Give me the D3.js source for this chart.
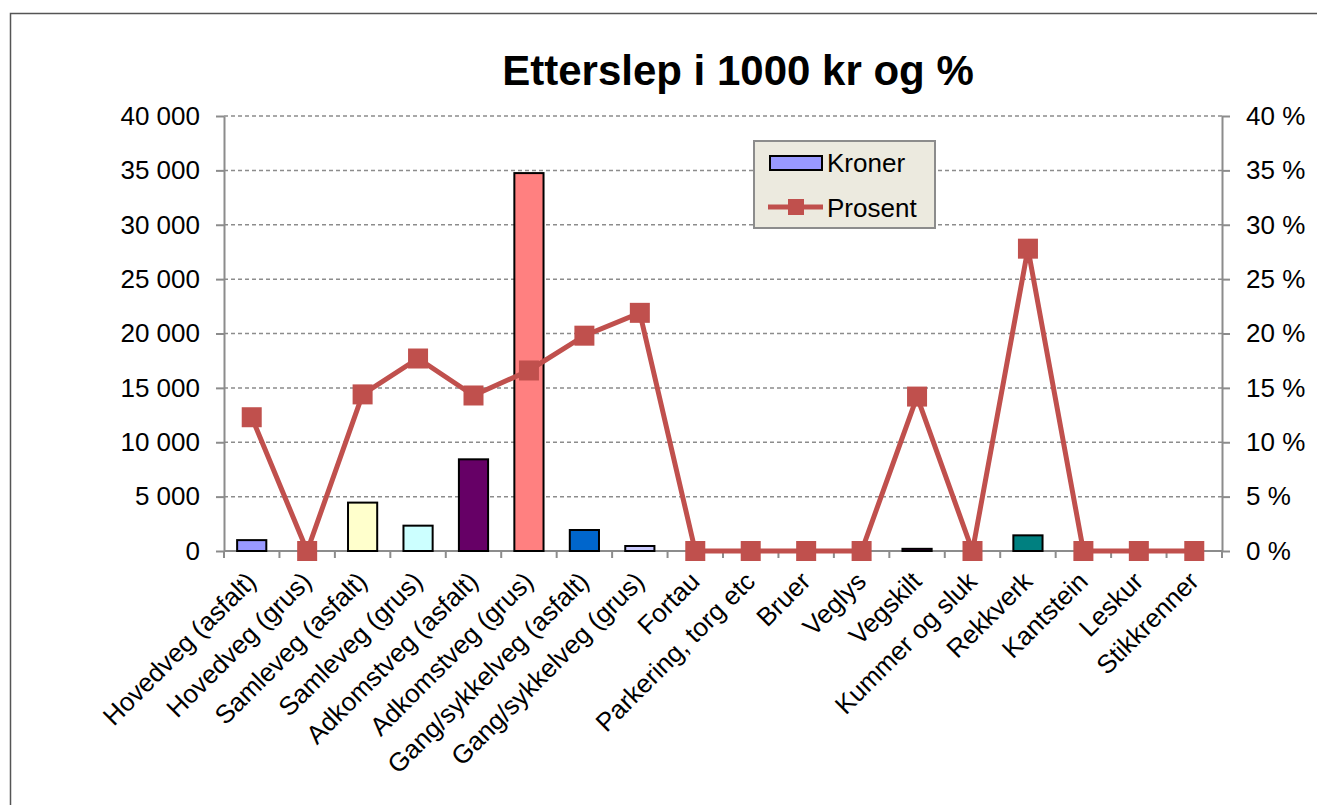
<html>
    <head>
        <script src="https://d3js.org/d3.v7.min.js"></script>
        <style>
            body { margin: 0; background: #fff; overflow: hidden; }
            svg { display: block; font-family: "Liberation Sans", Arial, sans-serif; }
            .grid line { stroke: #8c8c8c; stroke-dasharray: 4,3; stroke-width: 1.5px; }
            .axis path, .axis line { stroke: #8c8c8c; stroke-width: 2px; }
            .axis text { font-size: 26px; fill: #000; }
            .line { fill: none; stroke: #c0504d; stroke-width: 5px; }
        </style>
    </head>
    <body>
        <script>
            var categories = ["Hovedveg (asfalt)", "Hovedveg (grus)", "Samleveg (asfalt)", "Samleveg (grus)",
                "Adkomstveg (asfalt)", "Adkomstveg (grus)", "Gang/sykkelveg (asfalt)", "Gang/sykkelveg (grus)",
                "Fortau", "Parkering, torg etc", "Bruer", "Veglys", "Vegskilt", "Kummer og sluk",
                "Rekkverk", "Kantstein", "Leskur", "Stikkrenner"];
            var kroner = [1000, 0, 4450, 2330, 8430, 34750, 1930, 460, 0, 0, 0, 0, 200, 0, 1440, 0, 0, 0];
            var prosent = [12.3, 0, 14.4, 17.7, 14.3, 16.6, 19.8, 21.9, 0, 0, 0, 0, 14.2, 0, 27.8, 0, 0, 0];
            var barColors = ["#9999ff", "#993366", "#ffffcc", "#ccffff", "#660066", "#ff8080", "#0066cc", "#ccccff",
                "#000080", "#ff00ff", "#ffff00", "#00ffff", "#800080", "#800000", "#008080", "#0000ff", "#00ccff", "#ccffff"];
            var leftTicks = [0, 5000, 10000, 15000, 20000, 25000, 30000, 35000, 40000];
            var rightTicks = [0, 5, 10, 15, 20, 25, 30, 35, 40];

            var plotLeft = 224, plotRight = 1222, plotTop = 116, plotBottom = 551;

            var svg = d3.select("body").append("svg")
                .attr("width", 1317)
                .attr("height", 805);

            // chart border (runs off the right and bottom edges)
            svg.append("rect")
                .attr("x", 10.5).attr("y", 13.5)
                .attr("width", 1400).attr("height", 900)
                .attr("fill", "#fff").attr("stroke", "#555").attr("stroke-width", 1.5);

            svg.append("text")
                .attr("x", 738).attr("y", 85)
                .attr("text-anchor", "middle")
                .style("font-size", "42px").style("font-weight", "bold")
                .text("Etterslep i 1000 kr og %");

            var x = d3.scaleBand().domain(categories).range([plotLeft, plotRight]).padding(0);
            var y = d3.scaleLinear().domain([0, 40000]).range([plotBottom, plotTop]);
            var y2 = d3.scaleLinear().domain([0, 40]).range([plotBottom, plotTop]);
            var fmt = function(d) { return d3.format(",")(d).replace(/,/g, " "); };

            // gridlines
            svg.append("g").attr("class", "grid")
                .selectAll("line").data(leftTicks.slice(1)).enter().append("line")
                .attr("x1", plotLeft).attr("x2", plotRight)
                .attr("y1", function(d) { return y(d); })
                .attr("y2", function(d) { return y(d); });

            // left axis
            svg.append("g").attr("class", "axis")
                .attr("transform", "translate(" + plotLeft + ",0)")
                .call(d3.axisLeft(y).tickValues(leftTicks).tickFormat(fmt).tickSize(8).tickSizeOuter(0).tickPadding(16));

            // right axis
            svg.append("g").attr("class", "axis")
                .attr("transform", "translate(" + plotRight + ",0)")
                .call(d3.axisRight(y2).tickValues(rightTicks).tickFormat(function(d) { return d + " %"; })
                    .tickSize(8).tickSizeOuter(0).tickPadding(16));

            // bottom axis, ticks between categories
            var bx = svg.append("g").attr("class", "axis");
            bx.append("line").attr("x1", plotLeft).attr("x2", plotRight).attr("y1", plotBottom).attr("y2", plotBottom);
            bx.selectAll(".tk").data(d3.range(categories.length + 1)).enter().append("line")
                .attr("x1", function(i) { return plotLeft + i * x.step(); })
                .attr("x2", function(i) { return plotLeft + i * x.step(); })
                .attr("y1", plotBottom).attr("y2", plotBottom + 7);
            bx.selectAll("text").data(categories).enter().append("text")
                .attr("text-anchor", "end")
                .attr("transform", function(d) {
                    return "translate(" + (x(d) + x.bandwidth() / 2 + 6) + "," + (plotBottom + 32) + ") rotate(-45)";
                })
                .text(function(d) { return d; });

            // bars
            var bw = x.bandwidth() / 1.9;
            var barData = categories.map(function(c, i) { return {cat: c, value: kroner[i], color: barColors[i]}; })
                .filter(function(d) { return d.value > 0; });
            svg.append("g").selectAll("rect")
                .data(barData).enter().append("rect")
                .attr("x", function(d) { return x(d.cat) + (x.bandwidth() - bw) / 2; })
                .attr("width", bw)
                .attr("y", function(d) { return y(d.value); })
                .attr("height", function(d) { return plotBottom - y(d.value); })
                .attr("fill", function(d) { return d.color; })
                .attr("stroke", "#000").attr("stroke-width", 2);

            // percent line
            var line = d3.line()
                .x(function(d, i) { return x(categories[i]) + x.bandwidth() / 2; })
                .y(function(d) { return y2(d); });
            svg.append("path").datum(prosent).attr("class", "line").attr("d", line);
            svg.append("g").selectAll("rect").data(prosent).enter().append("rect")
                .attr("x", function(d, i) { return x(categories[i]) + x.bandwidth() / 2 - 10; })
                .attr("y", function(d) { return y2(d) - 10; })
                .attr("width", 20).attr("height", 20)
                .attr("fill", "#c0504d");

            // legend
            var lg = svg.append("g");
            lg.append("rect").attr("x", 754).attr("y", 141).attr("width", 181).attr("height", 87)
                .attr("fill", "#eceadf").attr("stroke", "#8c8c8c").attr("stroke-width", 2);
            lg.append("rect").attr("x", 770).attr("y", 156).attr("width", 52).attr("height", 14)
                .attr("fill", barColors[0]).attr("stroke", "#000").attr("stroke-width", 2);
            lg.append("text").attr("x", 827).attr("y", 172).style("font-size", "26px").text("Kroner");
            lg.append("line").attr("x1", 768).attr("x2", 823).attr("y1", 207).attr("y2", 207)
                .attr("stroke", "#c0504d").attr("stroke-width", 5);
            lg.append("rect").attr("x", 788).attr("y", 199).attr("width", 16).attr("height", 16).attr("fill", "#c0504d");
            lg.append("text").attr("x", 827).attr("y", 217).style("font-size", "26px").text("Prosent");
        </script>
    </body>
</html>
